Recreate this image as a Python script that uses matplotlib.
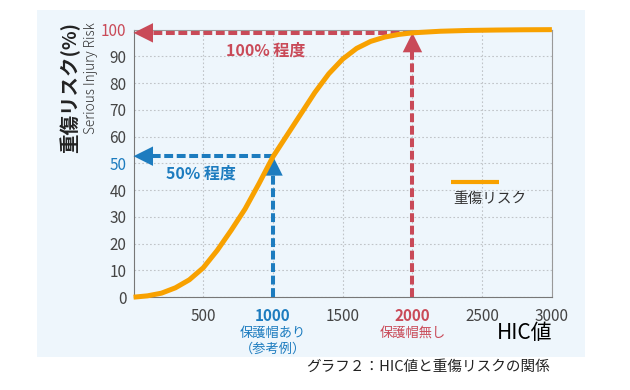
import matplotlib.pyplot as plt
from matplotlib.patches import Rectangle

plt.rcParams['font.family'] = ['Noto Sans CJK JP', 'DejaVu Sans']

# HIC value vs serious injury risk (%)
hic = [0, 100, 200, 300, 400, 500, 600, 700, 800, 900, 1000, 1100, 1200, 1300,
       1400, 1500, 1600, 1700, 1800, 1900, 2000, 2200, 2400, 2600, 2800, 3000]
risk = [0, 0.5, 1.5, 3.5, 6.5, 11, 17.5, 25, 33, 42.5, 52.5, 60.5, 68.5, 76.5,
        83.5, 89, 93, 95.6, 97.2, 98.2, 98.8, 99.4, 99.7, 99.85, 99.95, 100]

x_ticks = [500, 1000, 1500, 2000, 2500, 3000]
y_ticks = list(range(0, 101, 10))

helmet_hic, helmet_risk = 1000, 52.7
nohelmet_hic, nohelmet_risk = 2000, 98.8

ORANGE = '#F8A100'
RED = '#C94A58'
BLUE = '#1D7CBF'
GRAY = '#444444'
PANEL = '#EEF6FC'

fig = plt.figure(figsize=(6.3, 3.9), dpi=100)
fig.patches.append(Rectangle((0.0587, 0.0846), 0.87, 0.889, transform=fig.transFigure,
                             facecolor=PANEL, edgecolor='none', zorder=0))

ax = fig.add_axes([0.212, 0.238, 0.664, 0.686])
ax.set_zorder(2)
ax.patch.set_alpha(0)
ax.set_xlim(0, 3000)
ax.set_ylim(0, 100)

ax.set_xticks(x_ticks)
ax.set_yticks(y_ticks)
ax.tick_params(length=0, labelsize=11, colors=GRAY)
ax.tick_params(axis='x', pad=8)
ax.tick_params(axis='y', pad=5)
ax.grid(True, color='#c0c4c8', linestyle=(0, (1.5, 2)), linewidth=0.8)

for s in ['left', 'bottom']:
    ax.spines[s].set_color('#777777')
for s in ['top', 'right']:
    ax.spines[s].set_color('#999999')

for lab in ax.get_xticklabels():
    if lab.get_text() == '1000':
        lab.set_color(BLUE); lab.set_fontweight('bold')
    elif lab.get_text() == '2000':
        lab.set_color(RED); lab.set_fontweight('bold')
for lab in ax.get_yticklabels():
    if lab.get_text() == '100':
        lab.set_color(RED)
    elif lab.get_text() == '50':
        lab.set_color(BLUE)

# dashed guide arrows
dash = dict(linewidth=2.9, dashes=(2.2, 0.9), solid_capstyle='butt', dash_capstyle='butt')
ax.plot([helmet_hic, helmet_hic], [0, helmet_risk - 4], color=BLUE, zorder=3, **dash)
ax.plot([helmet_hic, 60], [helmet_risk, helmet_risk], color=BLUE, zorder=3, **dash)
ax.plot([nohelmet_hic, nohelmet_hic], [0, nohelmet_risk - 4], color=RED, zorder=3, **dash)
ax.plot([nohelmet_hic, 60], [nohelmet_risk, nohelmet_risk], color=RED, zorder=3, **dash)

head = 'simple,head_length=1.0,head_width=1.0,tail_width=0.01'
for c, tip, start in [(BLUE, (helmet_hic, helmet_risk), (helmet_hic, helmet_risk - 5)),
                      (BLUE, (0, helmet_risk), (100, helmet_risk)),
                      (RED, (nohelmet_hic, nohelmet_risk), (nohelmet_hic, nohelmet_risk - 5)),
                      (RED, (0, nohelmet_risk), (100, nohelmet_risk))]:
    ax.annotate('', xy=tip, xytext=start, annotation_clip=False,
                arrowprops=dict(arrowstyle=head, color=c, lw=0, shrinkA=0, shrinkB=0,
                                mutation_scale=14), zorder=4)

ax.plot(hic, risk, color=ORANGE, linewidth=3.6, solid_joinstyle='round',
        solid_capstyle='butt', zorder=5, clip_on=False)

ax.text(948, 92.3, '100% 程度', color=RED, fontsize=11.5, fontweight='bold', ha='center', va='center')
ax.text(484, 46.3, '50% 程度', color=BLUE, fontsize=11.5, fontweight='bold', ha='center', va='center')

# legend
ax.plot([2276, 2620], [42.9, 42.9], color=ORANGE, linewidth=3, solid_capstyle='butt')
ax.text(2555, 36.6, '重傷リスク', color='#333333', fontsize=10.5, ha='center', va='center')

# labels under the x ticks
ax.text(helmet_hic, -13.5, '保護帽あり', color=BLUE, fontsize=9.5, ha='center', va='center')
ax.text(helmet_hic, -19.5, '（参考例）', color=BLUE, fontsize=9.5, ha='center', va='center')
ax.text(nohelmet_hic, -13.5, '保護帽無し', color=RED, fontsize=9.5, ha='center', va='center')

ax.text(3000, -13.5, 'HIC値', color='black', fontsize=15, ha='right', va='center')

fig.text(70 / 630, 1 - 22 / 390, '重傷リスク(%)', rotation=90, fontsize=14, fontweight='bold',
         ha='center', va='top', color='#222222')
fig.text(91 / 630, 1 - 22 / 390, 'Serious Injury Risk', rotation=90, fontsize=9.8,
         ha='center', va='top', color='#333333', fontweight='light')

fig.text(428 / 630, 1 - 367 / 390, 'グラフ２：HIC値と重傷リスクの関係', fontsize=10.5,
         ha='center', va='center', color='#222222')

fig.savefig('out.png', dpi=100)
